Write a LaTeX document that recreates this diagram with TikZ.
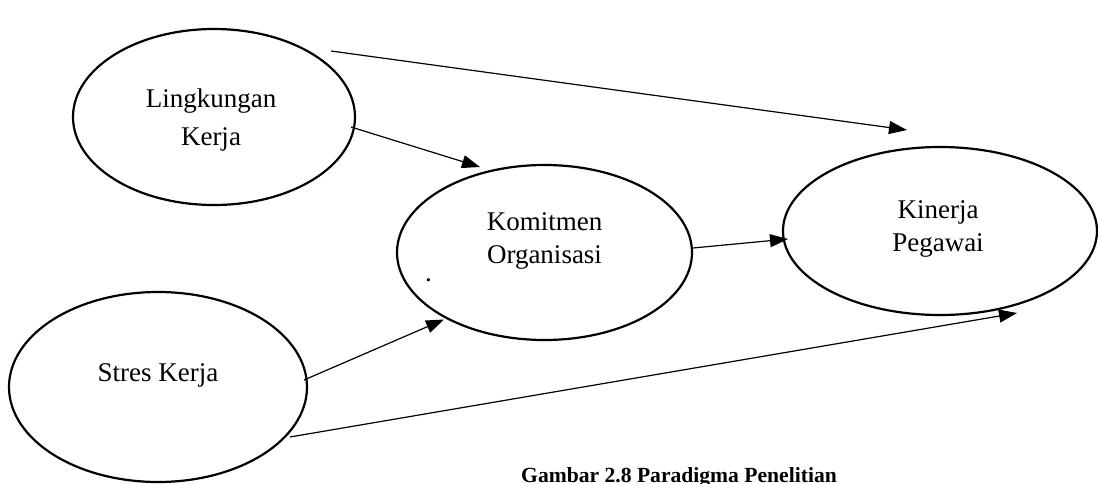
\documentclass[tikz,border=0pt]{standalone}
\usepackage{fontspec}
\setmainfont{Liberation Serif}
\usetikzlibrary{shapes.geometric,arrows.meta}
\tikzset{
  oval/.style={ellipse,draw,line width=2.2pt,inner sep=0pt},
  lbl/.style={align=center,font=\fontsize{27}{33}\selectfont,inner sep=0pt},
  arr/.style={line width=1.2pt,-{Triangle[length=18pt,width=13pt]}}
}
\begin{document}
\begin{tikzpicture}[x=1pt,y=-1pt]
\useasboundingbox (0,0) rectangle (1098,484);
\node[oval,minimum width=282pt,minimum height=176pt] (lk) at (214,117) {};
\node[oval,minimum width=295pt,minimum height=175pt] (ko) at (544.5,252.5) {};
\node[oval,minimum width=314pt,minimum height=168pt] (kp) at (940,231) {};
\node[oval,minimum width=298pt,minimum height=190pt] (sk) at (158,387) {};
\node[lbl,font=\fontsize{27}{38}\selectfont] (lkt) at ([shift={(-3,3)}]lk.center) {Lingkungan\\Kerja};
\node[lbl] (kot) at ([shift={(0,-12)}]ko.center) {Komitmen\\Organisasi};
\node[lbl] (kodot) at ([shift={(-116,28)}]ko.center) {.};
\node[lbl] (kpt) at ([shift={(-2,-2)}]kp.center) {Kinerja\\Pegawai};
\node[lbl] (skt) at ([shift={(0,-12)}]sk.center) {Stres Kerja};
\draw[arr] ([shift={(117,-66)}]lk.center) -- ([shift={(-33,-101)}]kp.center);
\draw[arr] ([shift={(137,10)}]lk.center) -- ([shift={(-64.5,-85.5)}]ko.center);
\draw[arr] ([shift={(148.5,-4.5)}]ko.center) -- ([shift={(-152,8)}]kp.center);
\draw[arr] ([shift={(146,-7)}]sk.center) -- ([shift={(-100.5,67)}]ko.center);
\draw[arr] ([shift={(132,50)}]sk.center) -- ([shift={(77,82)}]kp.center);
\node[font=\fontsize{21.6}{26}\selectfont\bfseries,anchor=base,inner sep=0pt] (cap) at (679,482) {Gambar 2.8 Paradigma Penelitian};
\end{tikzpicture}
\end{document}
